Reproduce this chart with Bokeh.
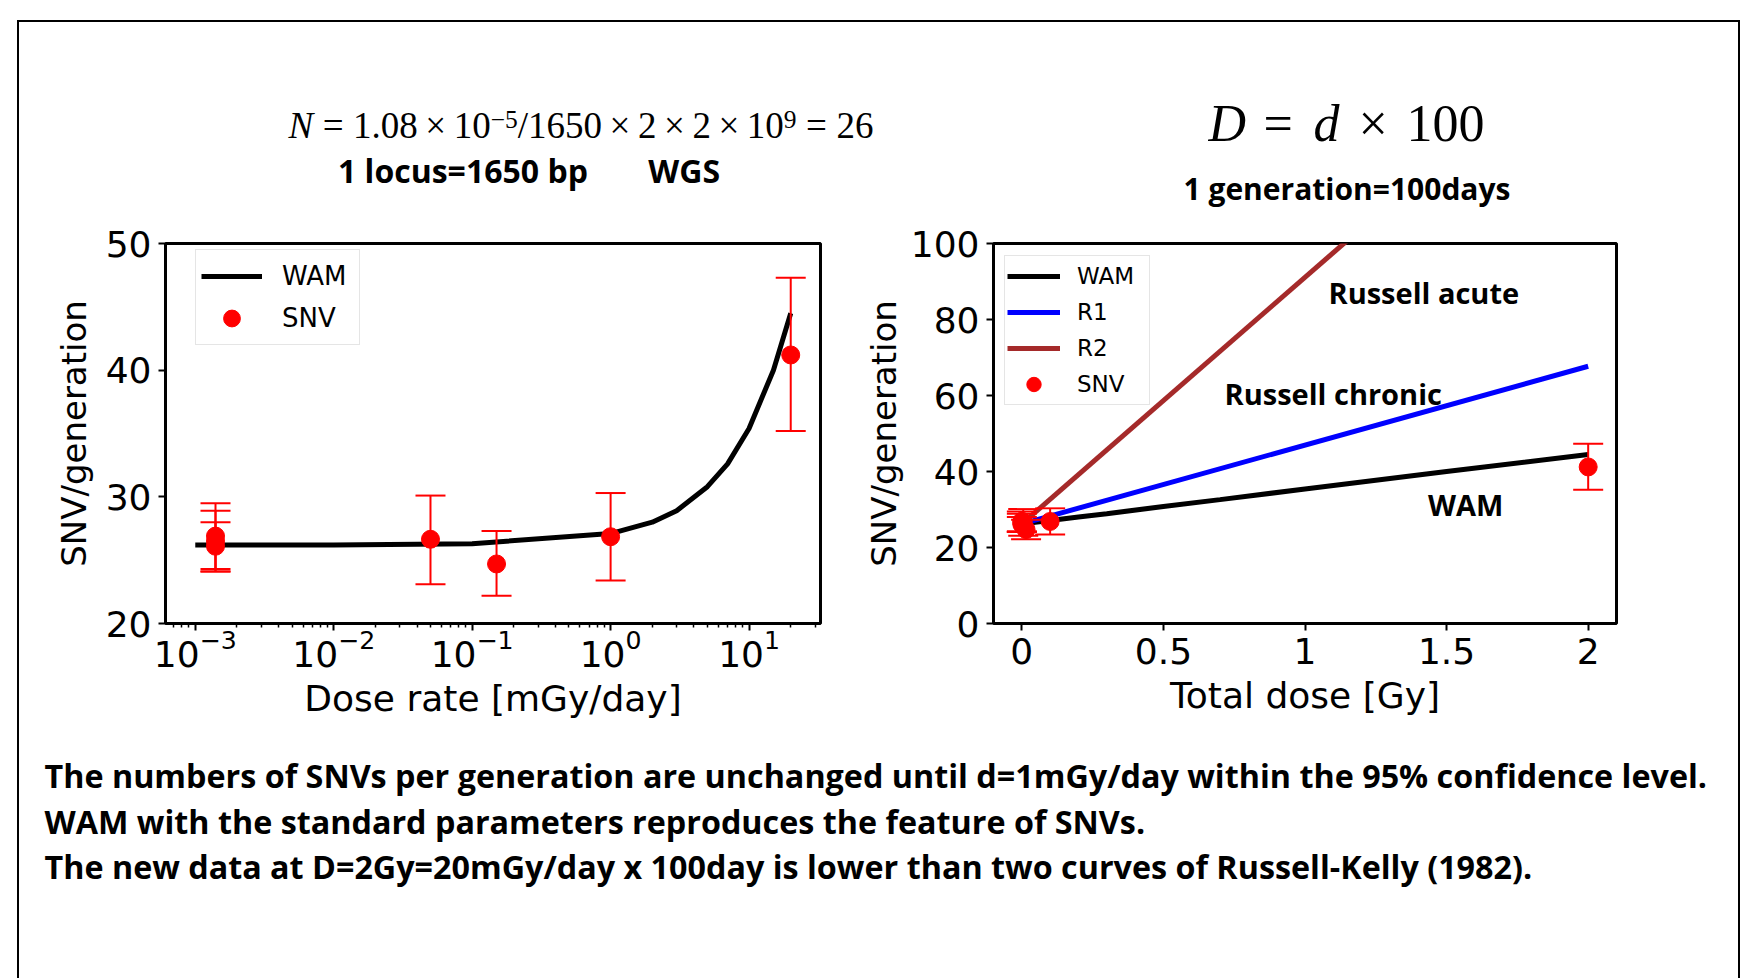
import math
from bokeh.plotting import figure
from bokeh.layouts import column, row
from bokeh.models import (Range1d, FixedTicker, Legend, LegendItem, Spacer,
                          ColumnDataSource)
from bokeh.embed import file_html
from bokeh.resources import INLINE
from bokeh.core.properties import value

# ---------------- data ----------------
wam_rate = [0.001, 0.01, 0.1, 1, 2, 3, 5, 7, 10, 15, 20]          # mGy/day
wam_snv = [26.2, 26.2, 26.3, 27.1, 28.0, 28.9, 30.8, 32.6, 35.4, 40.0, 44.5]

snv_rate = [0.0014, 0.0014, 0.0014, 0.05, 0.15, 1.0, 20.0]        # mGy/day
snv_val = [26.9, 26.5, 26.1, 26.65, 24.7, 26.85, 41.2]
snv_lo = [24.3, 24.1, 24.1, 23.1, 22.2, 23.4, 35.2]
snv_hi = [29.5, 28.9, 28.0, 30.1, 27.3, 30.3, 47.3]

r_dose = [0.0, 2.0]            # Gy
r1_snv = [26.2, 67.7]          # Russell chronic
r2_snv = [26.2, 156.0]         # Russell acute

days_per_generation = 100

left_yticks = [20, 30, 40, 50]
left_xticks = [1e-3, 1e-2, 1e-1, 1, 10]
right_yticks = [0, 20, 40, 60, 80, 100]
right_xticks = [0, 0.5, 1, 1.5, 2]
right_xlabels = ["0", "0.5", "1", "1.5", "2"]

curve_labels = ["Russell acute", "Russell chronic", "WAM"]
footer_lines = [
    "The numbers of SNVs per generation are unchanged until d=1mGy/day within the 95% confidence level.",
    "WAM with the standard parameters reproduces the feature of SNVs.",
    "The new data at D=2Gy=20mGy/day x 100day is lower than two curves of Russell-Kelly (1982).",
]

# total dose D = d x 100 days, mGy -> Gy
wam_dose = [r * days_per_generation / 1000.0 for r in wam_rate]
snv_dose = [r * days_per_generation / 1000.0 for r in snv_rate]

SANS = "DejaVu Sans"
SERIF = "Liberation Serif"
BOLD = "Open Sans"
# empirical shift of the rendered baseline (fraction of font size)
BASE_K = {SERIF: 0.39, BOLD: 0.33}


def style_axes(p):
    p.xgrid.visible = False
    p.ygrid.visible = False
    p.outline_line_color = "black"
    p.outline_line_width = 3
    p.background_fill_color = "white"
    p.border_fill_color = "white"
    p.axis.axis_line_color = None
    p.axis.major_tick_line_width = 2
    p.axis.major_tick_out = 7
    p.axis.major_tick_in = 0
    p.axis.minor_tick_line_width = 1.5
    p.axis.minor_tick_out = 4
    p.axis.minor_tick_in = 0
    p.axis.major_label_text_font = SANS
    p.axis.major_label_text_font_size = "36px"
    p.axis.major_label_text_color = "black"
    p.axis.major_label_standoff = 7
    p.axis.axis_label_text_font = SANS
    p.axis.axis_label_text_font_style = "normal"
    p.axis.axis_label_text_color = "black"
    p.xaxis.axis_label_text_font_size = "36px"
    p.yaxis.axis_label_text_font_size = "34px"


def errorbars(p, xs):
    src = ColumnDataSource(dict(x=xs, y=snv_val, lo=snv_lo, hi=snv_hi))
    p.segment(x0="x", y0="lo", x1="x", y1="hi", source=src,
              line_color="red", line_width=2)
    p.scatter(x="x", y="lo", marker="dash", size=30, source=src,
              line_color="red", line_width=2)
    p.scatter(x="x", y="hi", marker="dash", size=30, source=src,
              line_color="red", line_width=2)
    return p.scatter(x="x", y="y", marker="circle", size=18, source=src,
                     fill_color="red", line_color="red")


def style_legend(leg, fs, gw, gh, standoff, spacing, pad, lw):
    leg.label_text_font = SANS
    leg.label_text_font_size = fs
    leg.label_text_color = "black"
    leg.glyph_width = gw
    leg.glyph_height = gh
    leg.label_height = gh
    leg.label_width = lw
    leg.label_standoff = standoff
    leg.spacing = spacing
    leg.padding = pad
    leg.margin = 0
    leg.border_line_color = "#cccccc"
    leg.border_line_width = 1.5
    leg.background_fill_color = "white"
    leg.background_fill_alpha = 0.8


# ---------------- left plot ----------------
lo_l = math.log10(min(wam_rate + snv_rate))
hi_l = math.log10(max(wam_rate + snv_rate))
pad_l = 0.05 * (hi_l - lo_l)
p1 = figure(width=841, height=525, x_axis_type="log",
            x_range=Range1d(10 ** (lo_l - pad_l), 10 ** (hi_l + pad_l)),
            y_range=Range1d(20, 50),
            output_backend="svg", toolbar_location=None,
            min_border_left=146, min_border_right=40,
            min_border_top=29, min_border_bottom=114)
style_axes(p1)
p1.xaxis.ticker = FixedTicker(
    ticks=left_xticks,
    minor_ticks=[k * 10.0 ** e for e in range(-4, 2) for k in range(2, 10)])
p1.yaxis.ticker = FixedTicker(ticks=left_yticks)
p1.xaxis.axis_label = "Dose rate [mGy/day]"
p1.yaxis.axis_label = "SNV/generation"
p1.xaxis.major_label_standoff = -2
p1.xaxis.axis_label_standoff = 8
p1.yaxis.axis_label_standoff = 9

wam1 = p1.line(wam_rate, wam_snv, line_color="black", line_width=5)
dots1 = errorbars(p1, snv_rate)

leg1 = Legend(items=[LegendItem(label="WAM", renderers=[wam1]),
                     LegendItem(label="SNV", renderers=[dots1])],
              location=(30, 278))
style_legend(leg1, "26px", 61, 42, 20, -3, 5, 72)
p1.add_layout(leg1)

# ---------------- right plot ----------------
p2 = figure(width=878, height=525,
            x_range=Range1d(-0.1, 2.1), y_range=Range1d(0, 100),
            output_backend="svg", toolbar_location=None,
            min_border_left=131, min_border_right=122,
            min_border_top=31, min_border_bottom=110)
style_axes(p2)
p2.xaxis.ticker = FixedTicker(ticks=right_xticks)
p2.xaxis.major_label_overrides = {float(t): s for t, s in zip(right_xticks, right_xlabels)}
p2.yaxis.ticker = FixedTicker(ticks=right_yticks)
p2.xaxis.axis_label = "Total dose [Gy]"
p2.yaxis.axis_label = "SNV/generation"
p2.xaxis.axis_label_standoff = 8
p2.yaxis.axis_label_standoff = 4

wam2 = p2.line(wam_dose, wam_snv, line_color="black", line_width=5)
r1 = p2.line(r_dose, r1_snv, line_color="blue", line_width=5)
r2 = p2.line(r_dose, r2_snv, line_color="brown", line_width=5)
dots2 = errorbars(p2, snv_dose)

p2.text(x=[1.083, 0.716, 1.434], y=[87.2, 60.6, 31.4], text=curve_labels,
        text_font=value(BOLD), text_font_style=value("bold"),
        text_font_size=value("29px"), text_color="black",
        text_align="left", text_baseline="alphabetic")

leg2 = Legend(items=[LegendItem(label="WAM", renderers=[wam2]),
                     LegendItem(label="R1", renderers=[r1]),
                     LegendItem(label="R2", renderers=[r2]),
                     LegendItem(label="SNV", renderers=[dots2])],
              location=(11, 218))
style_legend(leg2, "23px", 53, 36, 17, -1, 2, 70)
p2.add_layout(leg2)


# ---------------- header / footer (page-pixel coordinates) ----------------
def text_panel(h, y0, y1):
    p = figure(width=1719, height=h, x_range=Range1d(19, 1738),
               y_range=Range1d(y1, y0), output_backend="svg",
               toolbar_location=None, min_border=0,
               x_axis_location=None, y_axis_location=None)
    p.xgrid.visible = False
    p.ygrid.visible = False
    p.outline_line_color = None
    p.background_fill_color = "white"
    p.border_fill_color = "white"
    return p


def put(p, x, baseline, s, font, size, style="normal"):
    y = baseline - BASE_K[font] * size
    p.text(x=[x], y=[y], text=[s], text_font=value(font),
           text_font_size=value(f"{size}px"), text_font_style=value(style),
           text_color="black", text_align="left", text_baseline="alphabetic")


head = text_panel(190, 22, 212)
MB, SB, MF, SF = 139.5, 128.5, 37, 25.5      # main/sup baseline & size
formula = [("N", 288, MB, MF, "italic"),
           ("=", 322.2, MB, MF, "normal"),
           ("1.08", 352.6, MB, MF, "normal"),
           ("\u00d7", 424.8, MB, MF, "normal"),
           ("10", 453.2, MB, MF, "normal"),
           ("\u22125", 490.2, SB, SF, "normal"),
           ("/1650", 517.3, MB, MF, "normal"),
           ("\u00d7", 609.1, MB, MF, "normal"),
           ("2", 637.5, MB, MF, "normal"),
           ("\u00d7", 663.5, MB, MF, "normal"),
           ("2", 691.9, MB, MF, "normal"),
           ("\u00d7", 717.9, MB, MF, "normal"),
           ("10", 746.3, MB, MF, "normal"),
           ("9", 783.3, SB, SF, "normal"),
           ("=", 805.5, MB, MF, "normal"),
           ("26", 835.9, MB, MF, "normal")]
for s, x, b, fs, st in formula:
    put(head, x, b, s, SERIF, fs, st)
put(head, 337.5, 180.5, "1 locus=1650 bp", BOLD, 32, "bold")
put(head, 647.8, 180.5, "WGS", BOLD, 32, "bold")

for s, x, st in [("D", 1208, "italic"), ("=", 1263, "normal"),
                 ("d", 1313, "italic"), ("\u00d7", 1358, "normal"),
                 ("100", 1406, "normal")]:
    put(head, x, 143, s, SERIF, 52, st)
put(head, 1183, 198, "1 generation=100days", BOLD, 30, "bold")

foot = text_panel(241, 737, 978)
for s, b in zip(footer_lines, [785.5, 831.5, 876]):
    put(foot, 44, b, s, BOLD, 32.3, "bold")

# ---------------- page frame & layout ----------------
def bar(w, h):
    return Spacer(width=w, height=h, styles={"background-color": "black"})

content = column(head, row(p1, p2), foot)
layout = column(
    Spacer(width=10, height=20),
    row(Spacer(width=17, height=2), bar(1723, 2)),
    row(Spacer(width=17, height=956), bar(2, 956), content, bar(2, 956)),
)

open("out.html", "w").write(file_html(layout, INLINE))
